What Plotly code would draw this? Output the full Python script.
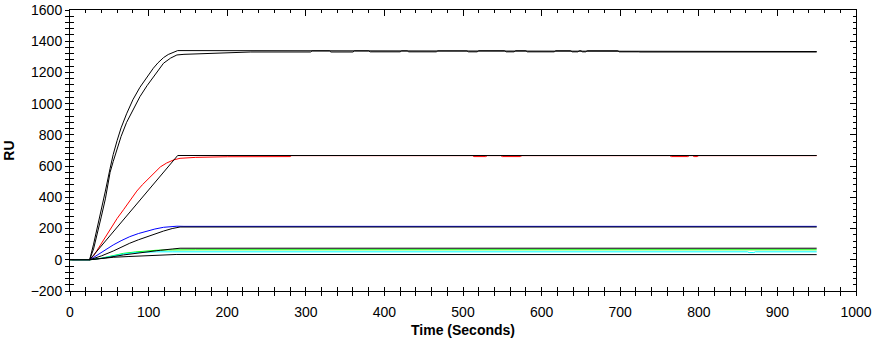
import plotly.graph_objects as go

# ---------------- data ----------------
top_fit_t = [0, 25, 30, 35, 40, 45, 51, 55, 60, 65, 72, 80, 89, 98, 106, 112, 119, 125, 130, 137, 950]
top_fit_v = [0, 0, 100, 210, 320, 440, 585, 675, 765, 845, 935, 1025, 1105, 1170, 1227, 1262, 1295, 1315, 1327, 1340, 1334]

top_dat_t = [0, 25, 30, 35, 40, 45, 51, 55, 60, 65, 72, 80, 89, 98, 106, 112, 119, 128, 136, 145, 157, 175, 195, 230,
             306, 308, 330, 332, 360, 362, 380, 382, 420, 422, 429, 431, 466, 468,
             505, 507, 518, 520, 553, 555, 565, 567, 580, 582, 616, 618, 637, 639, 646, 648,
             650, 652, 656, 658, 697, 699, 723, 725, 950]
top_dat_v = [0, 0, 70, 170, 280, 390, 560, 630, 710, 790, 880, 960, 1045, 1115, 1173, 1215, 1259, 1292, 1312, 1316, 1318, 1324, 1329, 1331,
             1331, 1338, 1338, 1331, 1331, 1338, 1338, 1332, 1332, 1338, 1338, 1332, 1332, 1338,
             1338, 1332, 1332, 1339, 1339, 1332, 1332, 1339, 1339, 1332, 1332, 1339, 1339, 1332, 1332, 1339,
             1339, 1332, 1332, 1339, 1339, 1332, 1332, 1331, 1331]

red_dat_t = [2, 25, 30, 40, 51, 60, 68, 77, 85, 92, 98, 106, 115, 123, 132, 140, 160, 200, 280, 282,
             512, 514, 529, 531, 548, 550, 573, 575, 763, 765, 786, 788, 792, 794, 798, 800, 950]
red_dat_v = [0, 0, 25, 105, 200, 265, 320, 385, 440, 480, 510, 550, 595, 620, 640, 650, 656, 660, 661, 667,
             667, 661, 661, 667, 667, 661, 661, 667, 667, 661, 661, 667, 667, 661, 661, 667, 667]
red_fit_t = [25, 50, 75, 100, 120, 137, 950]
red_fit_v = [0, 150, 300, 452, 572, 668, 668]

blue_dat_t = [3, 25, 30, 38, 46, 55, 65, 76, 87, 98, 108, 119, 128, 136, 145, 170, 950]
blue_dat_v = [0, 0, 15, 42, 70, 95, 122, 148, 168, 184, 197, 208, 213, 215, 214, 214, 214]
blue_fit_t = [25, 40, 55, 65, 76, 87, 98, 108, 119, 130, 140, 950]
blue_fit_v = [0, 25, 56, 82, 106, 128, 148, 167, 184, 200, 210, 210]

green_dat_t = [0, 25, 40, 55, 68, 83, 98, 110, 125, 140, 160, 950]
green_dat_v = [0, 0, 10, 25, 41, 50, 58, 61, 63, 64, 64, 64]
cyan_dat_t = [0, 25, 40, 55, 68, 83, 98, 110, 130, 591, 593, 602, 604, 862, 864, 870, 872, 950]
cyan_dat_v = [0, 0, 10, 25, 37, 46, 50, 51, 51, 51, 55, 55, 51, 51, 46, 46, 51, 51]
green_fit_t = [25, 45, 68, 83, 98, 115, 130, 140, 950]
green_fit_v = [0, 12, 31, 42, 52, 61, 69, 74, 74]
low_fit_t = [25, 40, 55, 75, 98, 123, 135, 950]
low_fit_v = [0, 8, 16, 21, 27, 33, 34, 33]

x_tick_vals = [0, 100, 200, 300, 400, 500, 600, 700, 800, 900, 1000]
y_tick_vals = [-200, 0, 200, 400, 600, 800, 1000, 1200, 1400, 1600]

# ---------------- figure ----------------
fig = go.Figure()

def line(t, v, color, axes=("x", "y")):
    fig.add_trace(go.Scatter(x=t, y=v, mode="lines", line=dict(color=color, width=1),
                             hoverinfo="skip", showlegend=False, xaxis=axes[0], yaxis=axes[1]))

line(red_dat_t, red_dat_v, "#FF0000")
line(blue_dat_t, blue_dat_v, "#0000FF")
line(green_dat_t, green_dat_v, "#00FF00")
line(cyan_dat_t, cyan_dat_v, "#00FFFF")
line(top_dat_t, top_dat_v, "#000000")
line(top_fit_t, top_fit_v, "#000000")
line(red_fit_t, red_fit_v, "#000000")
line(blue_fit_t, blue_fit_v, "#000000")
line(green_fit_t, green_fit_v, "#000000")
line(low_fit_t, low_fit_v, "#000000")

# dummy traces so the overlay axes (for the extra tick marks) are drawn
fig.add_trace(go.Scatter(x=[None], y=[None], xaxis="x2", yaxis="y2", showlegend=False, hoverinfo="skip"))
fig.add_trace(go.Scatter(x=[None], y=[None], xaxis="x3", yaxis="y3", showlegend=False, hoverinfo="skip"))

font = "Liberation Sans, Arial, sans-serif"
xr = [0, 1000]
yr = [-200, 1600]

fig.update_layout(
    width=874, height=341,
    margin=dict(l=70, r=18, t=10, b=50, autoexpand=False),
    paper_bgcolor="white", plot_bgcolor="white",
    font=dict(family=font, size=14, color="#000000"),
    xaxis=dict(range=xr, tickvals=x_tick_vals, ticks="outside", ticklen=4, tickwidth=1,
               tickcolor="black", showgrid=False, zeroline=False, showline=True, linecolor="black",
               linewidth=1, ticklabelstandoff=4, automargin=False,
               minor=dict(dtick=20, ticks="outside", ticklen=4, tickcolor="black", showgrid=False),
               title=dict(text="<b>Time (Seconds)</b>", standoff=6, font=dict(size=14))),
    yaxis=dict(range=yr, tickvals=y_tick_vals, ticks="outside", ticklen=4, tickwidth=1,
               tickcolor="black", showgrid=False, zeroline=False, showline=True, linecolor="black",
               linewidth=1, automargin=False,
               minor=dict(dtick=40, ticks="outside", ticklen=4, tickcolor="black", showgrid=False),
               title=dict(text="<b>RU</b>", standoff=12, font=dict(size=14))),
    xaxis2=dict(range=xr, overlaying="x", anchor="y2", side="top", tickvals=x_tick_vals,
                ticks="inside", ticklen=6, tickcolor="black", showticklabels=False, showgrid=False,
                zeroline=False, showline=True, linecolor="black", linewidth=1, automargin=False,
                minor=dict(dtick=20, ticks="inside", ticklen=3, tickcolor="black", showgrid=False)),
    yaxis2=dict(range=yr, overlaying="y", anchor="x2", side="right", tickvals=y_tick_vals,
                ticks="inside", ticklen=6, tickcolor="black", showticklabels=False, showgrid=False,
                zeroline=False, showline=True, linecolor="black", linewidth=1, automargin=False,
                minor=dict(dtick=40, ticks="inside", ticklen=3, tickcolor="black", showgrid=False)),
    xaxis3=dict(range=xr, overlaying="x", anchor="y3", side="bottom", tickvals=x_tick_vals,
                ticks="inside", ticklen=4, tickcolor="black", showticklabels=False, showgrid=False,
                zeroline=False, showline=False, automargin=False,
                minor=dict(dtick=20, ticks="inside", ticklen=4, tickcolor="black", showgrid=False)),
    yaxis3=dict(range=yr, overlaying="y", anchor="x3", side="left", tickvals=y_tick_vals,
                ticks="inside", ticklen=4, tickcolor="black", showticklabels=False, showgrid=False,
                zeroline=False, showline=False, automargin=False,
                minor=dict(dtick=40, ticks="inside", ticklen=4, tickcolor="black", showgrid=False)),
)

fig.write_html("out.html", config={"displayModeBar": False},
               post_script="document.body.style.margin='0';document.body.style.overflow='hidden';")
